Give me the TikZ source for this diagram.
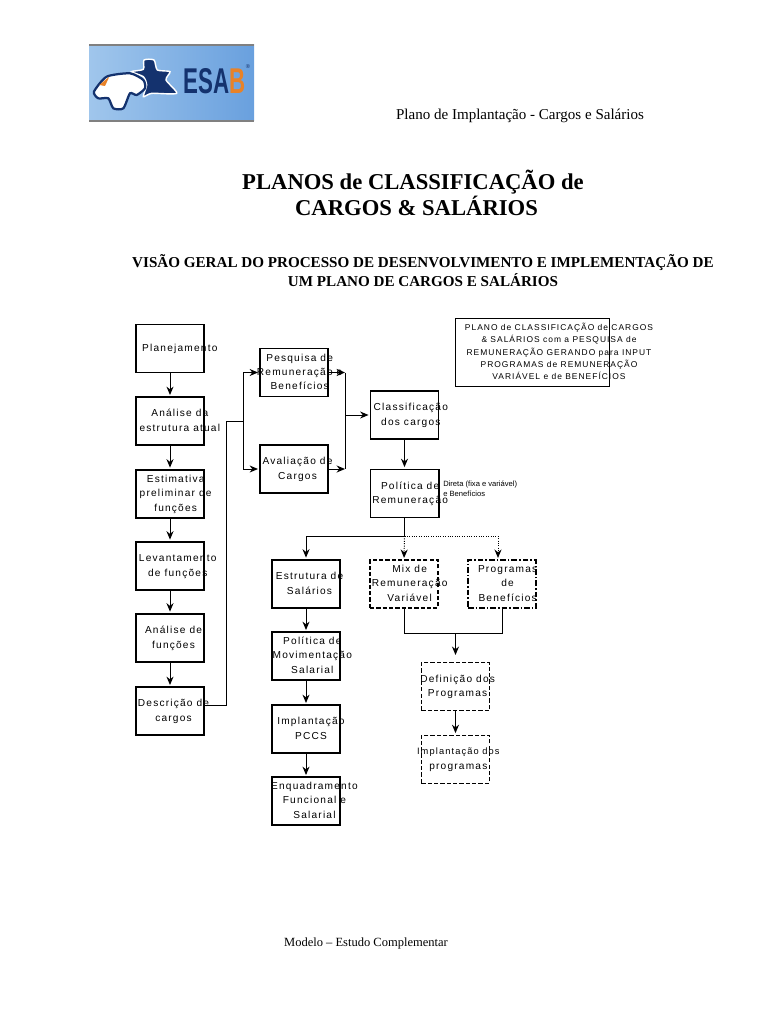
\documentclass[tikz,border=0pt]{standalone}
\usepackage{fontspec}
\setmainfont{Liberation Serif}
\setsansfont{Liberation Sans}
\newfontfamily\boxfont[LetterSpace=12]{Liberation Sans}
\usetikzlibrary{arrows.meta,calc}
\definecolor{logonavy}{RGB}{20,50,110}
\definecolor{logoorange}{RGB}{232,130,40}
\definecolor{logolight}{RGB}{160,198,236}
\definecolor{logoblue}{RGB}{105,160,222}
% text of a box, may stick out of it: shift, then the lines
\newcommand{\boxtxt}[2][0pt]{\makebox[0pt]{\hspace*{#1}\begin{tabular}{@{}c@{}}#2\end{tabular}}}
\tikzset{
  stepbox/.style={draw,line width=0.8pt,minimum width=1.7cm,minimum height=1.2cm,inner sep=0pt,font=\boxfont\fontsize{7.2}{10.2}\selectfont},
  thickbox/.style={stepbox,line width=1.4pt},
  dashbox/.style={stepbox,dash pattern=on 3pt off 1.5pt,line width=0.9pt},
  thindash/.style={stepbox,dash pattern=on 3pt off 1.5pt,line width=0.7pt},
  dotdashbox/.style={stepbox,dash pattern=on 4pt off 1.5pt on 1pt off 1.5pt,line width=0.9pt},
  link/.style={line width=0.7pt},
  flow/.style={link,->,shorten >=1pt},
}
\begin{document}
\begin{tikzpicture}[x=0.025cm,y=-0.025cm,>={Stealth[length=6pt,width=5pt]}]
\useasboundingbox (0,0) rectangle (768,1024);
% logo
\shade[left color=logolight,right color=logoblue] (89,45) rectangle (254,121);
\draw[gray,line width=0.8pt] (89,45) -- (254,45) (89,121) -- (254,121);
\begin{scope}[shift={(80,30)},x=0.00833cm,y=-0.00833cm]
\fill[logonavy,draw=white,line width=1pt] plot[smooth cycle,tension=0.4] coordinates {(155,125) (190,118) (192,90) (222,90) (232,120) (270,125) (258,150) (290,190) (215,190) (190,200) (200,165) (190,140)};
\fill[white,draw=logonavy,line width=1.6pt] plot[smooth cycle,tension=0.4] coordinates {(42,185) (80,140) (150,130) (190,150) (195,175) (170,195) (150,190) (130,235) (100,235) (85,205) (55,205)};
\fill[logoorange] (58,165) -- (88,140) -- (75,168) -- cycle;
\end{scope}
\node[font=\sffamily\bfseries,text=logonavy,inner sep=0pt,anchor=west] (esab) at (183,81) {\resizebox{1.55cm}{0.625cm}{ESA\textcolor{logoorange}{B}}};
\node[font=\sffamily\fontsize{4}{4}\selectfont,text=logonavy,inner sep=0pt] (marca) at (248,67) {®};
% titles
\node[font=\fontsize{10.7}{12}\selectfont,inner sep=0pt] (plano) at (520,116) {Plano de Implantação - Cargos e Salários};
\node[font=\bfseries\fontsize{16.1}{19}\selectfont,inner sep=0pt,align=center] (title) at (413,193) {PLANOS de CLASSIFICAÇÃO de\\\hspace*{5pt}CARGOS \& SALÁRIOS};
\node[font=\bfseries\fontsize{10.75}{13.4}\selectfont,inner sep=0pt,align=center] (visao) at (423,271) {VISÃO GERAL DO PROCESSO DE DESENVOLVIMENTO E IMPLEMENTAÇÃO DE\\UM PLANO DE CARGOS E SALÁRIOS};
\node[font=\fontsize{8.9}{10}\selectfont,inner sep=0pt] (modelo) at (366,943) {Modelo – Estudo Complementar};
% left column
\node[thickbox] (plan) at (170,348.5) {\boxtxt[14pt]{Planejamento}};
\node[stepbox] (ana) at (170,421) {\boxtxt[14pt]{Análise da\\estrutura atual}};
\node[thickbox] (est) at (170,494) {\boxtxt[8pt]{Estimativa\\preliminar de\\funções}};
\node[thickbox] (lev) at (170,566) {\boxtxt[11pt]{Levantamento\\de funções}};
\node[thickbox] (anf) at (170,638) {\boxtxt[5pt]{Análise de\\funções}};
\node[stepbox] (desc) at (170,711) {\boxtxt[5pt]{Descrição de\\cargos}};
% middle column
\node[stepbox] (pesq) at (294,372.5) {\boxtxt[8pt]{Pesquisa de\\Remuneração e\\Benefícios}};
\node[stepbox] (aval) at (294,469) {\boxtxt[5pt]{Avaliação de\\Cargos}};
\node[stepbox] (clas) at (404.5,415) {\boxtxt[9pt]{Classificação\\dos cargos}};
\node[thickbox] (pol) at (404.5,493.5) {\boxtxt[8pt]{Política de\\Remuneração}};
% lower columns
\node[thickbox] (estr) at (306,584) {\boxtxt[5pt]{Estrutura de\\Salários}};
\node[stepbox] (mov) at (306,656) {\boxtxt[9pt]{Política de\\Movimentação\\Salarial}};
\node[stepbox] (imp) at (306,729) {\boxtxt[7pt]{Implantação\\PCCS}};
\node[stepbox] (enq) at (306,801) {\boxtxt[12pt]{Enquadramento\\Funcional e\\Salarial}};
\node[dashbox] (mix) at (404,584) {\boxtxt[8pt]{Mix de\\Remuneração\\Variável}};
\node[dotdashbox] (prog) at (502,584) {\boxtxt[8pt]{Programas\\de\\Benefícios}};
\node[thindash] (defi) at (455.5,686.5) {\boxtxt[3pt]{Definição dos\\Programas}};
\node[thindash] (impl) at (455.5,759) {\boxtxt[4pt]{\fontsize{6.6}{10.2}\selectfont Implantação dos\\\fontsize{7.2}{10.2}\selectfont programas}};
% notes
\node[draw,line width=0.6pt,minimum width=3.85cm,minimum height=1.72cm,inner sep=0pt] (notebox) at (532,352.5) {};
\node[font=\boxfont\fontsize{6}{8.7}\selectfont,inner sep=0pt,align=center] (note) at (559,351.5) {PLANO de CLASSIFICAÇÃO de CARGOS\\\& SALÁRIOS com a PESQUISA de\\REMUNERAÇÃO GERANDO para INPUT\\PROGRAMAS de REMUNERAÇÃO\\VARIÁVEL e de BENEFÍCIOS};
\node[font=\fontsize{5.4}{7}\selectfont\sffamily,inner sep=0pt,align=left,anchor=west] (dir) at (443,489) {Direta (fixa e variável)\\e Benefícios};
% junctions
\coordinate (j1) at (226,705);
\coordinate (j2) at (226,421);
\coordinate (j3) at (243,421);
\coordinate (j4) at (345,415);
\coordinate (j5) at (404.5,536);
\coordinate (j6) at (404,633);
\coordinate (j7) at (502,633);
\coordinate (j8) at (455.5,633);
% connectors
\foreach \a/\b in {plan/ana,ana/est,est/lev,lev/anf,anf/desc,clas/pol,estr/mov,mov/imp,imp/enq,defi/impl}
  \draw[flow] (\a) -- (\b);
\draw[link] (desc.east |- j1) -- (j1) -- (j2) -- (j3);
\draw[flow] (j3) |- (pesq.west);
\draw[flow] (j3) |- (aval.west);
\draw[flow,shorten >=0pt] (pesq.east) -- (pesq.east -| j4);
\draw[flow,shorten >=0pt] (aval.east) -- (aval.east -| j4);
\draw[link] (pesq.east -| j4) -- (aval.east -| j4);
\draw[flow] (j4) -- (clas.west);
\draw[link] (pol.south) -- (j5);
\draw[flow] (j5) -| (estr.north);
\draw[flow,densely dotted] (j5) -- (mix.north);
\draw[flow,densely dotted] (j5) -| (prog.north -| 498,0);
\draw[link] (mix.south) -- (j6) -- (j7) -- (prog.south);
\draw[flow,shorten >=5pt] (j8) -- (defi.north);
\end{tikzpicture}
\end{document}
